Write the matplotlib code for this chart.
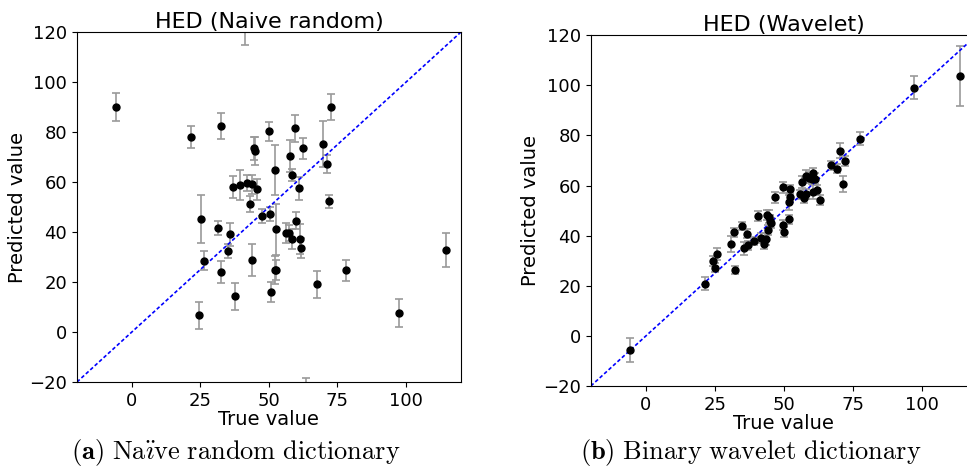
import matplotlib.pyplot as plt

plt.rcParams["mathtext.fontset"] = "cm"

# --- data ------------------------------------------------------------------
TRUE_NAIVE = [-5.7, 21.6, 32.5, 50.2, 59.6, 72.6, 44.4, 45.1, 62.3, 69.6,
              57.8, 71.0, 52.2, 58.5, 61.0, 37.0, 39.4, 42.1, 44.0, 45.5,
              43.1, 72.0, 25.1, 47.6, 50.4, 60.0, 31.3, 35.8, 52.7, 56.2,
              57.3, 58.4, 61.2, 61.7, 35.0, 26.2, 43.9, 52.2, 52.7, 32.4,
              78.1, 114.6, 67.5, 50.6, 37.6, 24.6, 97.5, 41.1, 63.4]
PRED_NAIVE = [90.0, 78.1, 82.5, 80.3, 81.5, 90.0, 73.5, 72.4, 73.5, 75.3,
              70.5, 67.1, 64.8, 62.9, 57.5, 58.1, 58.9, 59.5, 59.1, 57.1,
              51.2, 52.3, 45.3, 46.5, 47.2, 44.5, 41.6, 39.1, 41.1, 39.6,
              39.6, 37.1, 37.1, 33.7, 32.3, 28.5, 28.9, 24.9, 24.7, 24.0,
              24.7, 32.7, 19.1, 16.0, 14.3, 6.7, 7.6, 124.0, -24.0]
ERR_NAIVE = [5.6, 4.5, 5.3, 3.8, 5.5, 5.1, 4.5, 5.6, 4.3, 9.3,
             6.3, 3.6, 10.0, 2.5, 4.5, 4.4, 5.9, 3.2, 3.9, 4.1,
             3.3, 2.7, 9.5, 2.8, 2.9, 3.4, 2.7, 4.7, 10.3, 3.9,
             3.2, 4.0, 6.0, 4.0, 2.8, 3.8, 6.4, 5.7, 4.0, 4.3,
             4.3, 6.8, 5.3, 4.0, 5.3, 5.3, 5.6, 9.0, 5.6]

TRUE_WAVE = [-5.7, 21.3, 24.3, 24.9, 25.9, 31.0, 32.0, 32.2, 34.7, 35.4,
             36.6, 37.2, 39.2, 40.6, 41.8, 42.7, 43.7, 43.8, 44.3, 44.7,
             45.0, 45.2, 47.0, 49.9, 49.9, 50.2, 51.8, 51.9, 52.4, 52.4,
             55.9, 56.7, 57.3, 57.9, 58.2, 59.1, 60.1, 60.6, 60.6, 61.3,
             61.9, 63.1, 67.0, 69.2, 70.5, 71.6, 72.2, 77.6, 97.1, 114.1]
PRED_WAVE = [-5.6, 20.8, 29.8, 27.2, 32.6, 36.8, 41.3, 26.2, 43.8, 34.9,
             40.7, 36.1, 37.9, 47.9, 39.1, 36.8, 38.6, 48.1, 42.2, 47.5,
             45.9, 45.1, 55.4, 59.3, 44.1, 41.5, 46.5, 53.3, 58.5, 55.5,
             56.6, 61.5, 55.1, 63.8, 56.6, 63.2, 62.7, 65.0, 57.4, 62.8,
             58.2, 54.2, 68.0, 66.7, 73.9, 60.5, 69.8, 78.7, 99.1, 103.7]
ERR_WAVE = [4.9, 2.5, 2.0, 1.9, 2.5, 3.2, 1.7, 1.6, 1.7, 2.7,
            1.8, 1.9, 1.7, 2.0, 1.9, 2.3, 2.3, 2.0, 2.0, 2.6,
            2.3, 2.0, 2.2, 2.3, 2.0, 2.1, 1.7, 3.0, 1.7, 1.7,
            1.8, 2.3, 2.0, 2.2, 2.0, 2.0, 2.0, 2.0, 2.8, 2.0,
            2.0, 2.0, 1.7, 1.8, 3.0, 3.2, 2.1, 2.5, 4.7, 11.8]

LIMS = (-20, 120)
XTICKS = [0, 25, 50, 75, 100]
YTICKS = [-20, 0, 20, 40, 60, 80, 100, 120]

PANELS = [
    ("HED (Naive random)", TRUE_NAIVE, PRED_NAIVE, ERR_NAIVE,
     [0.0796, 0.1855, 0.397, 0.746]),
    ("HED (Wavelet)", TRUE_WAVE, PRED_WAVE, ERR_WAVE,
     [0.611, 0.177, 0.399, 0.748]),
]

fig = plt.figure(figsize=(9.67, 4.69), dpi=100)

for title, x, y, err, rect in PANELS:
    ax = fig.add_axes(rect)
    ax.errorbar(x, y, yerr=err, fmt="o", color="black", ms=5,
                ecolor="#9a9a9a", elinewidth=1.2, capsize=3, capthick=1.2)
    ax.plot(LIMS, LIMS, color="blue", linewidth=1.2, dashes=(2.2, 1.4))
    ax.set_xlim(LIMS)
    ax.set_ylim(LIMS)
    ax.set_xticks(XTICKS)
    ax.set_yticks(YTICKS)
    ax.tick_params(labelsize=13)
    ax.set_title(title, fontsize=16, pad=2)
    ax.set_xlabel("True value", fontsize=14, labelpad=0)
    ax.set_ylabel("Predicted value", fontsize=14, labelpad=2)

# sub-figure captions
fig.text(0.244, 0.022, r"$\mathbf{(a)}\ \mathrm{Na\ddot{\imath}ve\ random\ dictionary}$",
         ha="center", va="baseline", fontsize=19)
fig.text(0.776, 0.022, r"$\mathbf{(b)}\ \mathrm{Binary\ wavelet\ dictionary}$",
         ha="center", va="baseline", fontsize=19)

fig.savefig("out.png", dpi=100)
